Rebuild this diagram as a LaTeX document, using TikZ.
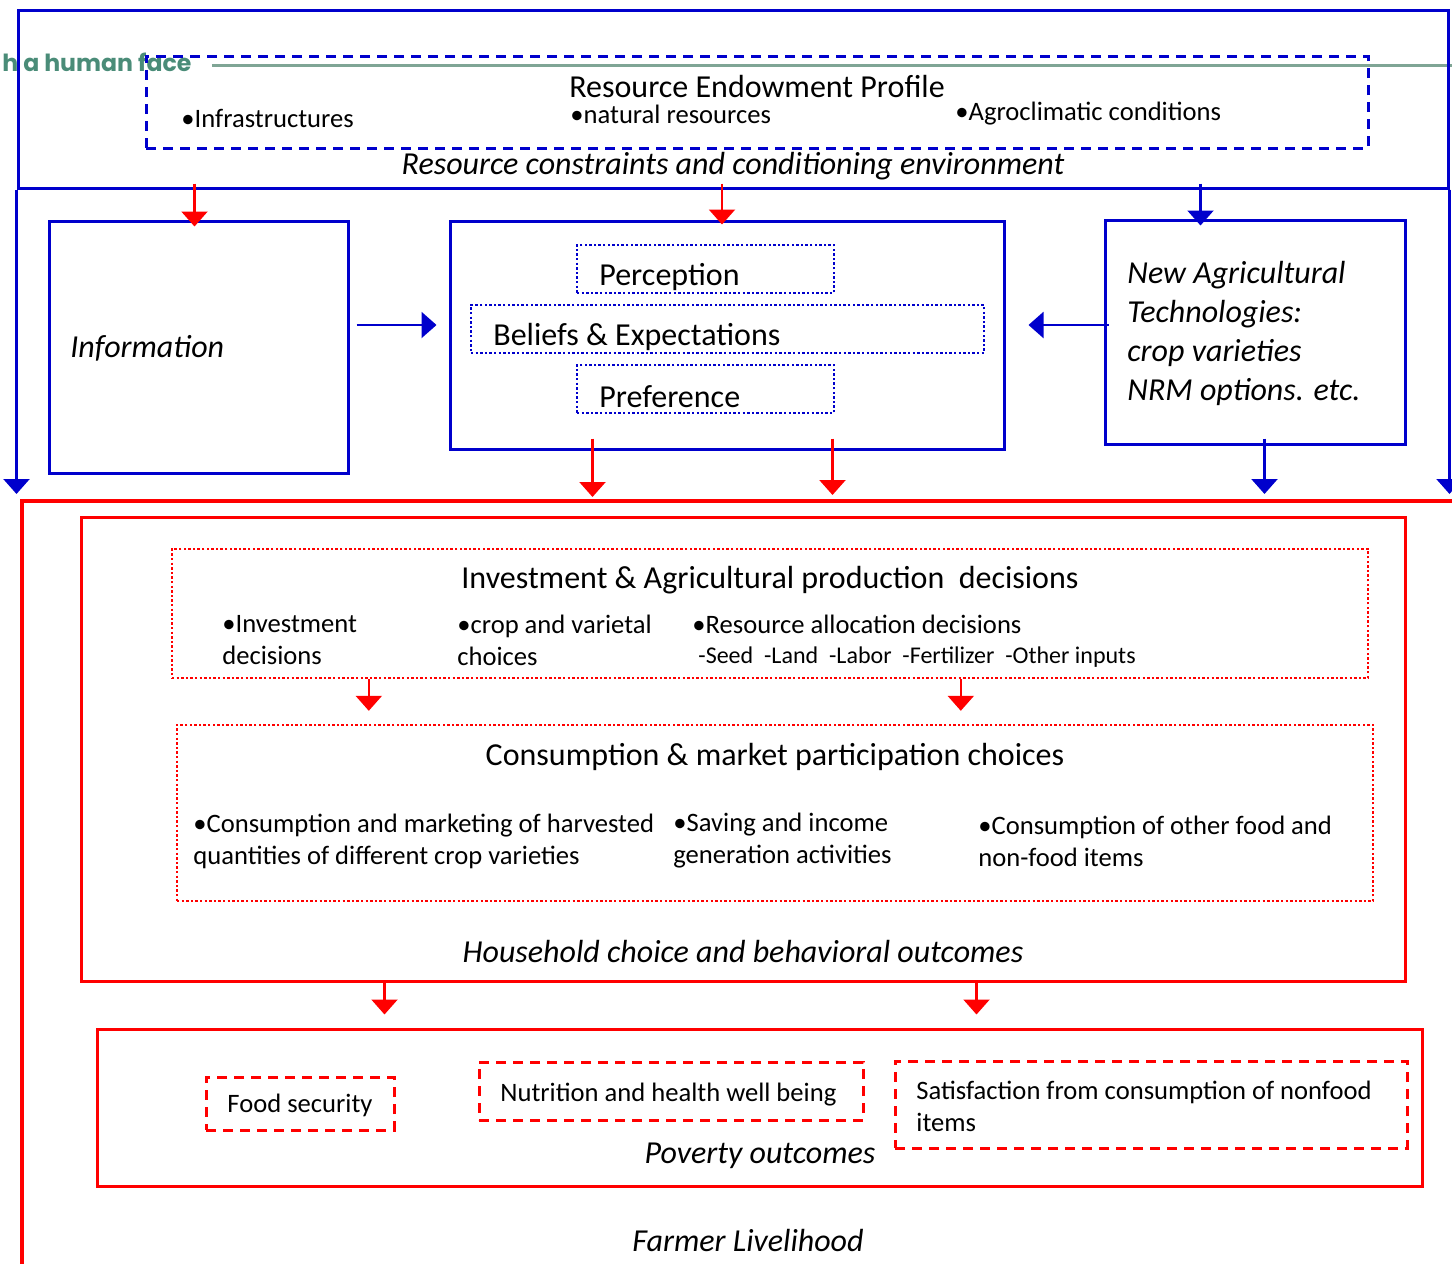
\documentclass[tikz,border=0pt]{standalone}
\usepackage{fontspec}
\setmainfont{Carlito}
\newfontfamily\bannerfont{Poppins}
\usetikzlibrary{arrows.meta, positioning, fit, calc}
\definecolor{blueline}{HTML}{0000CC}
\definecolor{redline}{HTML}{FF0000}
\definecolor{bannergreen}{HTML}{4A8C78}
\definecolor{bannerrule}{HTML}{7FA595}
\newcommand{\fsbig}{\fontsize{16}{19}\selectfont}
\newcommand{\fsmid}{\fontsize{16}{19.5}\selectfont}
\newcommand{\fshead}{\fontsize{16}{19}\selectfont}
\newcommand{\fstext}{\fontsize{13.3}{16}\selectfont}
\newcommand{\fssmall}{\fontsize{12}{14}\selectfont}

\begin{document}
\begin{tikzpicture}[x=0.5pt, y=-0.5pt,
    bluebox/.style={draw=blueline, line width=1.5pt, inner sep=0pt},
    bluedash/.style={draw=blueline, line width=1.5pt, inner sep=0pt, dash pattern=on 5pt off 3.5pt},
    bluedot/.style={draw=blueline, line width=1.2pt, inner sep=0pt, dash pattern=on 1.2pt off 1.1pt},
    redbox/.style={draw=redline, line width=1.5pt, inner sep=0pt},
    redouter/.style={draw=redline, line width=2pt, inner sep=0pt},
    reddot/.style={draw=redline, line width=1.2pt, inner sep=0pt, dash pattern=on 1.2pt off 1.1pt},
    reddash/.style={draw=redline, line width=1.5pt, inner sep=0pt, dash pattern=on 5pt off 3.5pt},
    bluearrow/.style={draw=blueline, line width=1.1pt, -{Triangle[width=13pt, length=7.5pt]}},
    redarrow/.style={draw=redline, line width=1.1pt, -{Triangle[width=13pt, length=7.5pt]}},
    txt/.style={inner sep=0pt, align=left},
  ]
  \useasboundingbox (0,0) rectangle (1452,1264);
  \clip (0,0) rectangle (1452,1264);

  % banner left over from the slide
  \node[txt, anchor=west, text=bannergreen, font=\bannerfont\bfseries\fontsize{11.8}{12}\selectfont] (banner) at (2,62) {h a human face};
  \draw[bannerrule, line width=1.5pt] ($(banner.east)+(20,3)$) -- (1460,65);

  % resource environment
  \node[bluebox, fit={(18,10) (1448,188)}] (env) {};
  \node[bluedash, fit={(146,56) (1368,148)}] (endow) {};
  \node[txt, font=\fsbig] (endowtitle) at (757,87) {Resource Endowment Profile};
  \node[txt, anchor=west, font=\fstext] (infra) at (181,118) {•Infrastructures};
  \node[txt, anchor=west, font=\fstext] (natres) at (570,114) {•natural resources};
  \node[txt, anchor=west, font=\fstext] (agroclim) at (955,114) {•Agroclimatic conditions};
  \node[txt, font=\fsmid\itshape] (envlabel) at (733,166) {Resource constraints and conditioning environment};

  % middle row
  \node[bluebox, fit={(49,221) (348,473)}] (info) {};
  \node[txt, anchor=west, font=\fsmid\itshape] (infotext) at (70,348) {Information};

  \node[bluebox, fit={(450,221) (1004,449)}] (mind) {};
  \node[bluedot, fit={(577,245) (834,293)}] (percep) {};
  \node[bluedot, fit={(471,305) (984,353)}] (belief) {};
  \node[bluedot, fit={(577,365) (834,413)}] (prefer) {};
  \node[txt, anchor=west, font=\fsbig] at (599,277) {Perception};
  \node[txt, anchor=west, font=\fsbig] at (493,337) {Beliefs \& Expectations};
  \node[txt, anchor=west, font=\fsbig] at (599,397) {Preference};

  \node[bluebox, fit={(1105,220) (1405,444)}] (tech) {};
  \node[txt, anchor=west, font=\fsmid\itshape] (techtext) at (1127,333)
    {New Agricultural\\Technologies:\\crop varieties\\NRM options. etc.};

  % farmer livelihood
  \node[redouter, fit={(22,501) (1490,1300)}] (livelihood) {};
  \node[txt, font=\fsmid\itshape] at (748,1240) {Farmer Livelihood};

  \node[redbox, fit={(81,517) (1405,981)}] (household) {};
  \node[reddot, fit={(172,549) (1368,678)}] (invest) {};
  \node[txt, font=\fshead] at (770,580) {Investment \& Agricultural production\ \ decisions};
  \node[txt, anchor=west, font=\fstext] at (222,640) {•Investment\\decisions};
  \node[txt, anchor=west, font=\fstext] at (457,640) {•crop and varietal\\choices};
  \node[txt, anchor=west, font=\fstext] at (692,624) {•Resource allocation decisions};
  \node[txt, anchor=west, font=\fssmall] at (698,657) {-Seed\ \ -Land\ \ -Labor\ \ -Fertilizer\ \ -Other inputs};

  \node[reddot, fit={(177,725) (1373,901)}] (consume) {};
  \node[txt, font=\fshead] at (775,757) {Consumption \& market participation choices};
  \node[txt, anchor=west, font=\fstext] at (193,841) {•Consumption and marketing of harvested\\quantities of different crop varieties};
  \node[txt, anchor=west, font=\fstext] at (673,841) {•Saving and income\\generation activities};
  \node[txt, anchor=west, font=\fstext] at (978,841) {•Consumption of other food and\\non-food items};
  \node[txt, font=\fsmid\itshape] at (743,951) {Household choice and behavioral outcomes};

  \node[redbox, fit={(97,1029) (1422,1186)}] (poverty) {};
  \node[reddash, fit={(206,1077) (394,1130)}] (food) {};
  \node[txt, font=\fstext] at ($(food.center)+(0,2)$) {Food security};
  \node[reddash, fit={(479,1062) (863,1120)}] (nutrition) {};
  \node[txt, anchor=west, font=\fstext] at (500,1095) {Nutrition and health well being};
  \node[reddash, fit={(895,1061) (1407,1148)}] (satisfy) {};
  \node[txt, anchor=west, font=\fstext] at (916,1106) {Satisfaction from consumption of nonfood\\items};
  \node[txt, font=\fsmid\itshape] at (760,1156) {Poverty outcomes};

  % arrows from the environment
  \draw[redarrow, shorten >=-3.5pt] ($(info.north |- env.south)+(-4,-6)$) -- ($(info.north)+(-4,0)$);
  \draw[redarrow, shorten >=-2.5pt] ($(mind.north |- env.south)+(-5,-6)$) -- ($(mind.north)+(-5,0)$);
  \draw[bluearrow, shorten >=-3.5pt] ($(tech.north west |- env.south)+(97,-6)$) -- ($(tech.north west)+(97,0)$);
  \draw[bluearrow, shorten >=2.5pt] (env.south west) -- (env.south west |- livelihood.north);
  \draw[bluearrow, shorten >=2.5pt] (env.south east) -- (env.south east |- livelihood.north);

  % arrows into the mind box
  \draw[bluearrow] ($(info.east)+(7,-22)$) -- ($(mind.west |- info.east)+(-12,-22)$);
  \draw[bluearrow] ($(tech.west)+(5,-7)$) -- ($(mind.east |- tech.west)+(23,-7)$);

  % arrows into the livelihood box
  \draw[redarrow, shorten >=1pt] ($(mind.south west)+(144,-12)$) -- ($(mind.south west |- livelihood.north)+(144,0)$);
  \draw[redarrow, shorten >=2pt] ($(mind.south west)+(384,-12)$) -- ($(mind.south west |- livelihood.north)+(384,0)$);
  \draw[bluearrow, shorten >=2.5pt] ($(tech.south west)+(161,-7)$) -- ($(tech.south west |- livelihood.north)+(161,0)$);

  % household arrows
  \draw[redarrow, shorten >=6.5pt] ($(invest.south west)+(198,0)$) -- ($(invest.south west |- consume.north)+(198,0)$);
  \draw[redarrow, shorten >=6.5pt] ($(invest.south west)+(790,0)$) -- ($(invest.south west |- consume.north)+(790,0)$);
  \draw[redarrow, shorten >=6.5pt] ($(household.south west)+(305,0)$) -- ($(household.south west |- poverty.north)+(305,0)$);
  \draw[redarrow, shorten >=6.5pt] ($(household.south west)+(897,0)$) -- ($(household.south west |- poverty.north)+(897,0)$);
\end{tikzpicture}
\end{document}
